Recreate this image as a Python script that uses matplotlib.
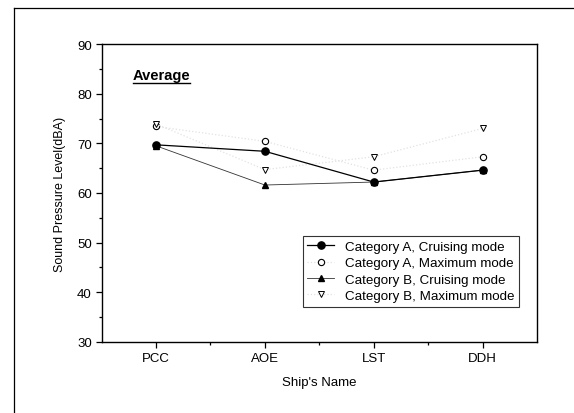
import matplotlib
matplotlib.use("Agg")
import matplotlib.pyplot as plt
from matplotlib.lines import Line2D
from matplotlib.ticker import MultipleLocator

plt.rcParams['font.family'] = ['Liberation Sans', 'DejaVu Sans']

ships = ['PCC', 'AOE', 'LST', 'DDH']
a_cruise = [69.7, 68.4, 62.2, 64.6]
a_max = [73.4, 70.4, 64.6, 67.3]
b_cruise = [69.5, 61.6, 62.2, 64.6]
b_max = [73.9, 64.7, 67.3, 73.0]

x = list(range(1, len(ships) + 1))

fig = plt.figure(figsize=(5.74, 4.14), dpi=100)
ax = fig.add_axes([0.177, 0.172, 0.7585, 0.719])

# outer frame (left and top only, like the scanned page)
fig.add_artist(Line2D([14/574, 14/574], [0, 1 - 9/414], color='black', lw=0.9))
fig.add_artist(Line2D([14/574, 1], [1 - 9/414, 1 - 9/414], color='black', lw=0.9))

ax.plot(x, a_max, ls=':', color='#e2e2e2', lw=0.9, marker='o', ms=4.5,
        mfc='white', mec='black', mew=0.8, label='Category A, Maximum mode')
ax.plot(x, b_max, ls=':', color='#e2e2e2', lw=0.9, marker='v', ms=4.5,
        mfc='white', mec='black', mew=0.7, label='Category B, Maximum mode')
ax.plot(x, b_cruise, ls='-', color='#333333', lw=0.6, marker='^', ms=5,
        mfc='black', mec='black', label='Category B, Cruising mode')
ax.plot(x, a_cruise, ls='-', color='black', lw=0.9, marker='o', ms=5.2,
        mfc='black', mec='black', label='Category A, Cruising mode')

ax.set_xlim(0.5, 4.5)
ax.set_ylim(30, 90)
ax.set_xticks(x)
ax.set_xticklabels(ships)
ax.set_xticks([1.5, 2.5, 3.5], minor=True)
ax.yaxis.set_major_locator(MultipleLocator(10))
ax.yaxis.set_minor_locator(MultipleLocator(5))
ax.tick_params(which='major', direction='out', length=4, width=0.9, labelsize=9.5, pad=3)
ax.tick_params(which='minor', direction='out', length=2.5, width=0.9)
for s in ax.spines.values():
    s.set_linewidth(1.0)

ax.set_xlabel("Ship's Name", fontsize=9.5, labelpad=9)
ax.set_ylabel('Sound Pressure Level(dBA)', fontsize=9, labelpad=8)

ax.text(0.071, 0.92, 'Average', transform=ax.transAxes, fontsize=10.5,
        fontweight='bold', va='top', ha='left')
ax.plot([0.071, 0.203], [0.868, 0.868], transform=ax.transAxes, color='black', lw=1.0)

h, l = ax.get_legend_handles_labels()
order = [3, 0, 2, 1]
leg = ax.legend([h[i] for i in order], [l[i] for i in order], loc='lower right',
                bbox_to_anchor=(0.958, 0.118), fontsize=9.6, frameon=True, fancybox=False,
                edgecolor='black', handlelength=2.0, handletextpad=0.8,
                labelspacing=0.3, borderpad=0.35, borderaxespad=0)
leg.get_frame().set_linewidth(0.8)

fig.savefig('out.png', dpi=100)
